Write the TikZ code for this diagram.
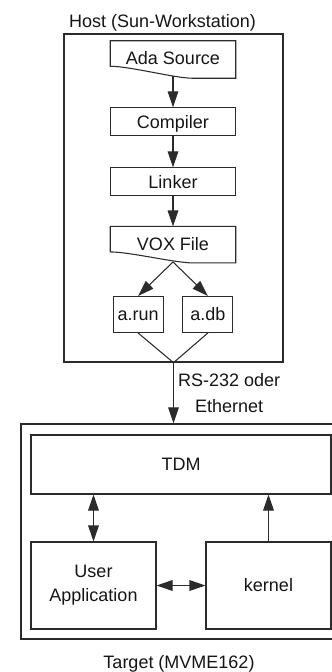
\documentclass[tikz,border=0pt]{standalone}
\usepackage{fontspec}
\setmainfont{Liberation Sans}
\usepackage{xcolor}
\definecolor{cLine}{HTML}{2B2B2B}
\definecolor{cText}{HTML}{151515}
\usepackage{tikz}
\usetikzlibrary{positioning,arrows.meta,calc}
\tikzset{
  node-box/.style={draw=cLine,line width=0.8pt,inner sep=0pt,
    minimum height=21pt,minimum width=93.75pt,text height=9.7pt,text depth=0pt},
  node-doc/.style={inner sep=0pt,minimum height=26.25pt,minimum width=93.75pt,
    text height=9.7pt,text depth=0pt},
  node-file/.style={node-box,minimum width=37.5pt,minimum height=27pt},
  node-unit/.style={draw=cLine,line width=0.8pt,inner sep=0pt,align=center},
  node-frame/.style={draw=cLine,line width=1pt,inner sep=0pt},
  node-title/.style={anchor=base,inner sep=0pt},
  edge-label/.style={inner sep=0pt,align=center,
    font=\fontsize{13.5pt}{19.5pt}\selectfont},
  % Spitzen lang und schmal wie im Original
  arrow/.style={-{Triangle[length=12pt,width=8pt]},line width=0.8pt,draw=cLine},
  arrow-both/.style={{Triangle[length=12pt,width=8pt]}-{Triangle[length=12pt,width=8pt]},
    line width=0.8pt,draw=cLine},
  link/.style={line width=0.8pt,draw=cLine},
}
% Dokument-Symbol mit gewelltem Unterrand
\newcommand{\docoutline}[2]{%
  \draw[link] (#1.north west) -- (#1.north east) -- ($(#1.south east)+(0,#2)$)
    -- ($(#1.south)+(20,#2)$)
    .. controls ($(#1.south)+(2,#2)$) and ($(#1.south west)+(20,-10)$)
    .. ($(#1.south west)+(0,-10)$) -- cycle;}

\begin{document}
\begin{tikzpicture}[x=0.75pt,y=-0.75pt,text=cText,
    every node/.style={font=\fontsize{13.5pt}{18pt}\selectfont}]
  \useasboundingbox (0,0) rectangle (332,672);

  \node[node-frame,minimum width=164.25pt,minimum height=246pt] (host) at (173.5,198) {};
  \node[node-title] (host-title) at (162.5,27) {Host (Sun-Workstation)};

  \node[node-doc] (ada) at (173,58.5) {Ada Source};
  \docoutline{ada}{2}
  \node[node-box,below=23.25pt of ada] (cmp) {Compiler};
  \node[node-box,below=23.25pt of cmp] (lnk) {Linker};
  \node[node-doc,below=22.5pt of lnk] (vox) {VOX File};
  \docoutline{vox}{1}
  \node[node-file,below left=25.5pt and 7pt of vox.south] (arun) {a.run};
  \node[node-file,below right=25.5pt and 7pt of vox.south] (adb) {a.db};

  \draw[arrow] (ada.south) -- (cmp);
  \draw[arrow] (cmp) -- (lnk);
  \draw[arrow] (lnk) -- (vox);
  \draw[arrow] (vox.south) -- (arun.north);
  \draw[arrow] (vox.south) -- (adb.north);
  \draw[link] (arun.south) -- (host.south);
  \draw[link] (adb.south) -- (host.south);

  \node[node-frame,minimum width=240pt,minimum height=161.25pt] (tgt) at (181,531.5) {};
  \node[node-title] (tgt-title) at (179,668) {Target (MVME162)};

  \node[node-unit,minimum width=225pt,minimum height=44.25pt] (tdm) at (181,464.5) {TDM};
  \node[node-unit,minimum width=93.75pt,minimum height=65.25pt] (usr) at (93.5,585.5) {User\\Application};
  \node[node-unit,minimum width=93.75pt,minimum height=65.25pt] (kern) at (268.5,585.5) {kernel};

  \draw[arrow] (host.south) -- node[edge-label,right=3pt] {RS-232 oder\\Ethernet} (host.south |- tgt.north);
  \draw[arrow-both] (usr.north) -- (usr.north |- tdm.south);
  \draw[arrow] (kern.north) -- (kern.north |- tdm.south);
  \draw[arrow-both] (usr) -- (kern);
\end{tikzpicture}
\end{document}
